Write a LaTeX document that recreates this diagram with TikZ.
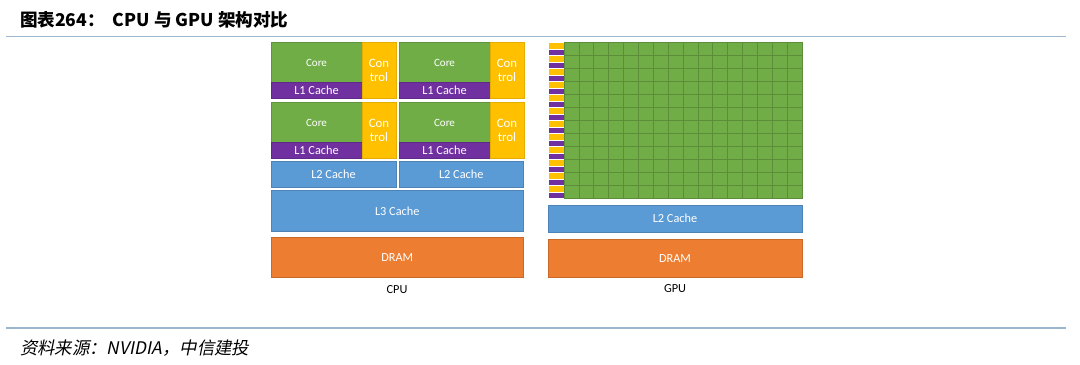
\documentclass[tikz,border=0pt]{standalone}
\usepackage{fontspec}
\setmainfont{Carlito}
\newfontfamily\cjk[AutoFakeSlant=0.2]{Noto Sans CJK SC}
\definecolor{CoreGreen}{HTML}{70AD47}
\definecolor{CtrlYellow}{HTML}{FFC000}
\definecolor{CachePurple}{HTML}{7030A0}
\definecolor{CacheBlue}{HTML}{5B9BD5}
\definecolor{DramOrange}{HTML}{ED7D31}
\definecolor{RuleBlue}{HTML}{9BB7CF}

% block from its corners: name, style, x1, y1, x2, y2, text
\newcommand{\Blk}[7]{
\node[#2,minimum width={((#5)-(#3))*0.02cm},minimum height={((#6)-(#4))*0.02cm}] (#1) at ({((#3)+(#5))/2},{((#4)+(#6))/2}) {#7};
}
% one CPU core with its L1 cache and control: prefix, left, top
\newcommand{\CpuCore}[3]{
\Blk{#1core}{Core}{#2}{#3}{#2+91}{#3+40}{Core}
\Blk{#1l1}{L1}{#2}{#3+40}{#2+91}{#3+55.5}{L1 Cache}
\Blk{#1ctrl}{Ctrl}{#2+91}{#3}{#2+125}{#3+55.5}{Con\\trol}
}
\tikzset{every node/.style={inner sep=0pt,outer sep=0pt,font=\fontsize{7}{8}\selectfont,text=white}}
\tikzset{Core/.style={rectangle,fill=CoreGreen,draw=CoreGreen!85!black,line width=0.3pt,font=\fontsize{6.3}{7}\selectfont}}
\tikzset{L1/.style={rectangle,fill=CachePurple,draw=CachePurple!85!black,line width=0.3pt}}
\tikzset{Ctrl/.style={rectangle,fill=CtrlYellow,draw=CtrlYellow!90!black,line width=0.3pt,align=center,font=\fontsize{7.3}{8}\selectfont}}
\tikzset{Cache/.style={rectangle,fill=CacheBlue,draw=CacheBlue!85!black,line width=0.3pt}}
\tikzset{Dram/.style={rectangle,fill=DramOrange,draw=DramOrange!85!black,line width=0.3pt}}
\tikzset{Cell/.style={rectangle,fill=CoreGreen,draw=CoreGreen!82!black,line width=0.3pt}}
\tikzset{StripY/.style={rectangle,fill=CtrlYellow,draw=white,line width=0.3pt}}
\tikzset{StripP/.style={rectangle,fill=CachePurple,draw=white,line width=0.3pt}}
\tikzset{Caption/.style={text=black,font=\fontsize{7}{8}\selectfont}}
\tikzset{Rule/.style={RuleBlue,line width=0.9pt}}

\begin{document}
\begin{tikzpicture}[x=0.02cm,y=-0.02cm]
\useasboundingbox (0,0) rectangle (1080,365);

\node[anchor=west,text=black,font=\cjk\bfseries\fontsize{10}{12}\selectfont] (title) at (20,20) {图表264：\ \ CPU 与 GPU 架构对比};
\coordinate (rtl) at (6,36.3);
\coordinate (rtr) at (1066,36.3);
\draw[Rule] (rtl) -- (rtr);

% CPU
\CpuCore{a}{271}{42.5}
\CpuCore{b}{399}{42.5}
\CpuCore{c}{271}{102.5}
\CpuCore{d}{399}{102.5}

\Blk{cl2a}{Cache}{271}{161}{396}{187}{L2 Cache}
\Blk{cl2b}{Cache}{399}{161}{523.5}{187}{L2 Cache}
\Blk{cl3}{Cache}{271}{190.5}{523.5}{231.5}{L3 Cache}
\Blk{cdram}{Dram}{271}{237.5}{523.5}{277.5}{DRAM}
\node[Caption] (cpu) at (397,290) {CPU};

% GPU
\foreach \r in {0,...,11}{
  \Blk{sy\r}{StripY}{548}{42.5+13*\r}{564}{49+13*\r}{}
  \Blk{sp\r}{StripP}{548}{49+13*\r}{564}{55.5+13*\r}{}
  \foreach \c in {0,...,15}{
    \Blk{g\r-\c}{Cell}{564+14.875*\c}{42.5+13*\r}{578.875+14.875*\c}{55.5+13*\r}{}
  }
}
\Blk{gl2}{Cache}{548}{205}{802}{232.5}{L2 Cache}
\Blk{gdram}{Dram}{548}{239.5}{802}{277.5}{DRAM}
\node[Caption] (gpu) at (675,289) {GPU};

\coordinate (rbl) at (6,328);
\coordinate (rbr) at (1066,328);
\draw[Rule] (rbl) -- (rbr);
\node[anchor=west,text=black,font=\cjk\itshape\fontsize{9.9}{11}\selectfont] (source) at (20,348) {资料来源：NVIDIA，中信建投};

\end{tikzpicture}
\end{document}
